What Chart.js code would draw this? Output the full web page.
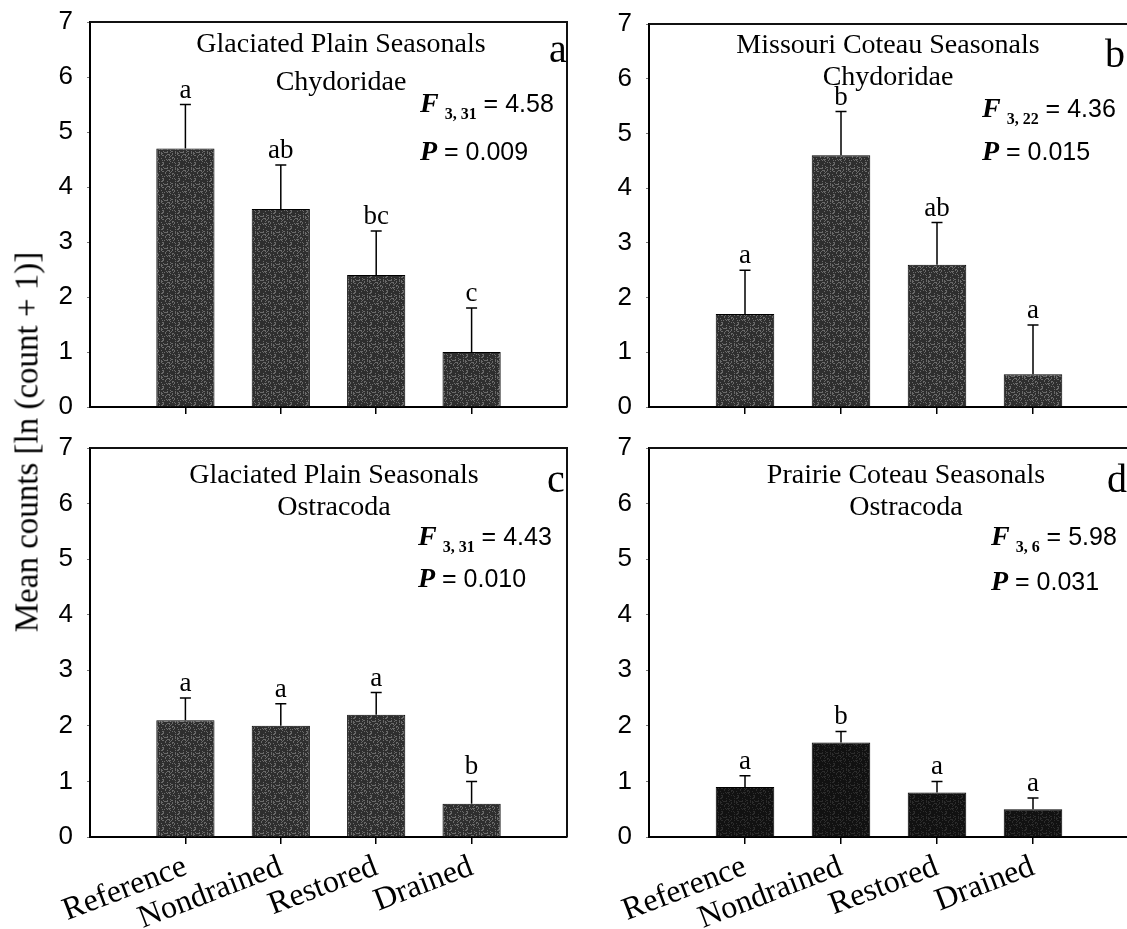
<!DOCTYPE html>
<html>
<head>
<meta charset="utf-8">
<script src="https://cdn.jsdelivr.net/npm/chart.js@4.4.0/dist/chart.umd.min.js"></script>
<style>
  html, body { margin: 0; padding: 0; background: #fff; overflow: hidden; }
  #wrap { position: relative; width: 1127px; height: 929px; overflow: hidden; background: #fff; }
  #wrap canvas { position: absolute; }
  #ytitle {
    position: absolute; left: 27px; top: 442px;
    transform: translate(-50%, -50%) rotate(-90deg);
    font: 33px "Liberation Serif", serif; color: #000; white-space: nowrap;
  }
</style>
</head>
<body>
<div id="wrap">
  <canvas id="panelA" width="575" height="425" style="left:0px;top:0px;width:575px;height:425px"></canvas>
  <canvas id="panelB" width="575" height="425" style="left:559px;top:0px;width:575px;height:425px"></canvas>
  <canvas id="panelC" width="575" height="504" style="left:0px;top:425px;width:575px;height:504px"></canvas>
  <canvas id="panelD" width="575" height="504" style="left:559px;top:425px;width:575px;height:504px"></canvas>
  <div id="ytitle">Mean counts [ln (count + 1)]</div>
</div>
<script>
// wetland classes on the x axis
var categories = ['Reference', 'Nondrained', 'Restored', 'Drained'];
var yTicks = [0, 1, 2, 3, 4, 5, 6, 7];

// a: Glaciated Plain seasonals, Chydoridae
var meansA = [4.7, 3.6, 2.4, 1.0];
var seA = [0.8, 0.8, 0.8, 0.8];
var groupsA = ['a', 'ab', 'bc', 'c'];

// b: Missouri Coteau seasonals, Chydoridae
var meansB = [1.7, 4.6, 2.6, 0.6];
var seB = [0.8, 0.8, 0.77, 0.9];
var groupsB = ['a', 'b', 'ab', 'a'];

// c: Glaciated Plain seasonals, Ostracoda
var meansC = [2.1, 2.0, 2.2, 0.6];
var seC = [0.4, 0.4, 0.4, 0.4];
var groupsC = ['a', 'a', 'a', 'b'];

// d: Prairie Coteau seasonals, Ostracoda
var meansD = [0.9, 1.7, 0.8, 0.5];
var seD = [0.2, 0.2, 0.2, 0.2];
var groupsD = ['a', 'b', 'a', 'a'];

var regions = ['Glaciated Plain Seasonals', 'Missouri Coteau Seasonals', 'Glaciated Plain Seasonals', 'Prairie Coteau Seasonals'];
var taxa = ['Chydoridae', 'Chydoridae', 'Ostracoda', 'Ostracoda'];
var dfLabels = ['3, 31', '3, 22', '3, 31', '3, 6'];
var fValues = ['4.58', '4.36', '4.43', '5.98'];
var pValues = ['0.009', '0.015', '0.010', '0.031'];
var panelLetters = ['a', 'b', 'c', 'd'];

// stippled dark fill for the bars (fixed hash, so it looks the same every time)
function speckle(base, light) {
  var n = 16;
  var c = document.createElement('canvas');
  c.width = n; c.height = n;
  var g = c.getContext('2d');
  g.fillStyle = base;
  g.fillRect(0, 0, n, n);
  g.fillStyle = light;
  for (var y = 0; y < n; y++) {
    for (var x = 0; x < n; x++) {
      var h = ((x * 73 + y * 151) ^ (x * y * 17 + 29)) % 13;
      if (h < 3) g.fillRect(x, y, 1, 1);
    }
  }
  return g.createPattern(c, 'repeat');
}

function drawStat(ctx, x, y, sym, sub, value) {
  ctx.textAlign = 'left';
  ctx.textBaseline = 'alphabetic';
  ctx.font = 'italic bold 28px "Liberation Serif"';
  ctx.fillText(sym, x, y);
  x += ctx.measureText(sym).width;
  if (sub) {
    x += 6;
    ctx.font = 'bold 16px "Liberation Serif"';
    ctx.fillText(sub, x, y + 7);
    x += ctx.measureText(sub).width;
  }
  ctx.font = '25px "Liberation Sans"';
  ctx.fillText(' = ' + value, x, y);
}

function makePanel(id, idx, means, se, groups, cfg) {
  var canvas = document.getElementById(id);
  var ctx = canvas.getContext('2d');
  var labels = [''].concat(categories, ['']);
  var values = [null].concat(means, [null]);

  var extras = {
    id: 'extras',
    afterDatasetsDraw: function(chart) {
      var c = chart.ctx;
      var area = chart.chartArea;
      var yScale = chart.scales.y;
      var bars = chart.getDatasetMeta(0).data;
      c.save();
      // top and right sides of the frame
      c.strokeStyle = '#111';
      c.lineWidth = 2;
      c.beginPath();
      c.moveTo(area.left, area.top);
      c.lineTo(area.right, area.top);
      c.lineTo(area.right, area.bottom);
      c.stroke();

      // upper error bars and group letters
      c.strokeStyle = '#000';
      c.fillStyle = '#000';
      c.lineWidth = 1.5;
      for (var i = 0; i < means.length; i++) {
        var bar = bars[i + 1];
        var yTop = yScale.getPixelForValue(means[i] + se[i]);
        var yMean = yScale.getPixelForValue(means[i]);
        c.beginPath();
        c.moveTo(bar.x, yMean);
        c.lineTo(bar.x, yTop);
        c.moveTo(bar.x - 5.5, yTop);
        c.lineTo(bar.x + 5.5, yTop);
        c.stroke();
        c.font = '27px "Liberation Serif"';
        c.textAlign = 'center';
        c.textBaseline = 'alphabetic';
        c.fillText(groups[i], bar.x, yTop - 7);
      }

      // panel title lines
      c.font = '28px "Liberation Serif"';
      c.textAlign = 'center';
      c.fillText(regions[idx], cfg.titleX, cfg.titleY[0]);
      c.fillText(taxa[idx], cfg.titleX, cfg.titleY[1]);

      // panel letter
      c.font = '40px "Liberation Serif"';
      c.textAlign = 'left';
      c.fillText(panelLetters[idx], cfg.letterX, cfg.letterY);

      // ANOVA result
      drawStat(c, cfg.statX, cfg.statY[0], 'F', dfLabels[idx], fValues[idx]);
      drawStat(c, cfg.statX, cfg.statY[1], 'P', null, pValues[idx]);
      c.restore();
    }
  };

  return new Chart(ctx, {
    type: 'bar',
    data: {
      labels: labels,
      datasets: [{
        data: values,
        backgroundColor: speckle(cfg.barBase, cfg.barLight),
        borderColor: '#000',
        borderWidth: 1,
        barPercentage: 0.61,
        categoryPercentage: 1
      }]
    },
    options: {
      responsive: false,
      animation: false,
      layout: { padding: { top: cfg.padTop, right: cfg.padRight, left: 0, bottom: 0 } },
      plugins: { legend: { display: false }, tooltip: { enabled: false } },
      scales: {
        x: {
          offset: false,
          grid: {
            offset: false,
            drawOnChartArea: false,
            drawTicks: true,
            tickLength: 7,
            lineWidth: 1.5,
            tickColor: function(c) {
              return (c.index === 0 || c.index === labels.length - 1) ? 'rgba(0,0,0,0)' : '#000';
            }
          },
          border: { display: true, color: '#000', width: 2 },
          ticks: {
            display: cfg.showLabels,
            autoSkip: false,
            minRotation: 21,
            maxRotation: 21,
            padding: 4,
            color: '#000',
            font: { family: 'Liberation Serif', size: 32 }
          },
          afterFit: function(scale) {
            scale.height = cfg.xHeight;
            scale.paddingLeft = 0;
            scale.paddingRight = 0;
          }
        },
        y: {
          min: 0,
          max: 7,
          afterBuildTicks: function(scale) {
            scale.ticks = yTicks.map(function(v) { return { value: v }; });
          },
          grid: { drawOnChartArea: false, tickLength: 3, tickColor: '#777', lineWidth: 1 },
          border: { display: true, color: '#000', width: 2 },
          ticks: {
            padding: 14,
            color: '#000',
            font: { family: 'Liberation Sans', size: 26 }
          },
          afterFit: function(scale) {
            scale.width = 90;
            scale.paddingTop = 0;
            scale.paddingBottom = 0;
          }
        }
      }
    },
    plugins: [extras]
  });
}

makePanel('panelA', 0, meansA, seA, groupsA, {
  padTop: 22, padRight: 8, xHeight: 18, showLabels: false,
  titleX: 341, titleY: [52, 90], letterX: 549, letterY: 62,
  statX: 420, statY: [112, 160], barBase: '#2e2e2e', barLight: '#6a6a6a'
});
makePanel('panelB', 1, meansB, seB, groupsB, {
  padTop: 24, padRight: 5, xHeight: 18, showLabels: false,
  titleX: 329, titleY: [53, 85], letterX: 546, letterY: 67,
  statX: 423, statY: [117, 160], barBase: '#2e2e2e', barLight: '#6a6a6a'
});
makePanel('panelC', 2, meansC, seC, groupsC, {
  padTop: 23, padRight: 8, xHeight: 92, showLabels: true,
  titleX: 334, titleY: [58, 90], letterX: 547, letterY: 67,
  statX: 418, statY: [120, 162], barBase: '#2e2e2e', barLight: '#6a6a6a'
});
makePanel('panelD', 3, meansD, seD, groupsD, {
  padTop: 23, padRight: 5, xHeight: 92, showLabels: true,
  titleX: 347, titleY: [58, 90], letterX: 548, letterY: 67,
  statX: 432, statY: [120, 165], barBase: '#111111', barLight: '#2c2c2c'
});
</script>
</body>
</html>
